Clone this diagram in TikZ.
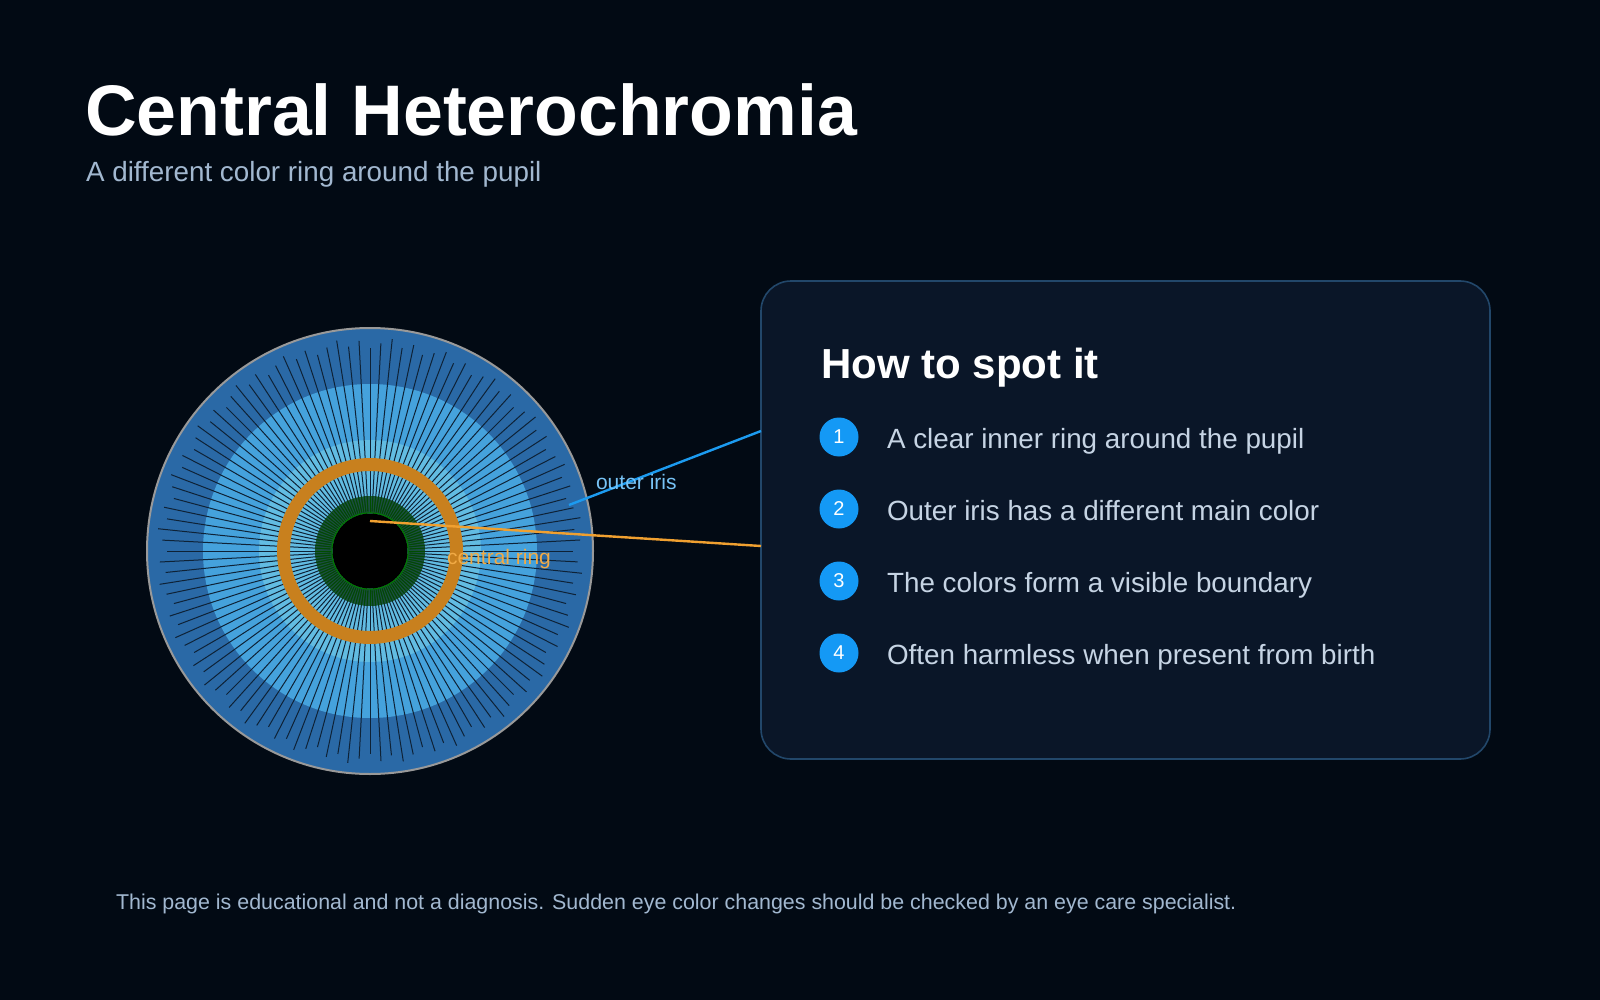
\documentclass[tikz,border=0pt]{standalone}
\usepackage{fontspec}
\setmainfont{Liberation Sans}
\usetikzlibrary{positioning,calc}
\definecolor{bgdark}{HTML}{020A14}
\definecolor{panelbg}{HTML}{0A1628}
\definecolor{panelline}{HTML}{22476A}
\definecolor{irisout}{HTML}{2A69A6}
\definecolor{irismid}{HTML}{45A2DC}
\definecolor{irisin}{HTML}{62BCE2}
\definecolor{ringorange}{HTML}{C8801E}
\definecolor{linkorange}{HTML}{F0A030}
\definecolor{ringgreen}{HTML}{0F3D22}
\definecolor{badgeblue}{HTML}{1499F5}
\definecolor{linkblue}{HTML}{1C9BF0}
\definecolor{itemtext}{HTML}{C6D4E4}
\definecolor{subtext}{HTML}{A2B8D0}
\definecolor{spoke}{HTML}{0E2236}
\begin{document}
\begin{tikzpicture}[x=0.5pt,y=-0.5pt]
\tikzstyle{badge}=[circle,fill=badgeblue,minimum size=19.5pt,inner sep=0pt,text=white,font=\fontsize{10}{12}\selectfont]
\tikzstyle{item}=[anchor=base west,text=itemtext,font=\fontsize{13.9}{16}\selectfont]
\tikzstyle{spokeline}=[spoke,line width=0.5pt]
\fill[bgdark] (0,0) rectangle (1600,1000);
\useasboundingbox (0,0) rectangle (1600,1000);
% title
\node[anchor=base west,text=white,font=\fontsize{35.8}{43}\selectfont\bfseries] (title) at (78,136) {Central Heterochromia};
\node[anchor=base west,text=subtext,font=\fontsize{13.9}{16}\selectfont] (subtitle) at (79,182) {A different color ring around the pupil};
% eye
\coordinate (eye) at (370,551);
\fill[irisout] (eye) circle (223);
\fill[irismid] (eye) circle (167);
\fill[irisin] (eye) circle (111);
\foreach \i in {0,...,119}{
  \pgfmathsetmacro\r{203+10*mod(\i*37,5)/4}
  \draw[spokeline] ($(eye)+(\i*3:40)$) -- ($(eye)+(\i*3:\r)$);
}
\fill[ringgreen,opacity=0.85,even odd rule] (eye) circle (55) (eye) circle (38);
\foreach \i in {0,...,119}{
  \draw[black!70!green,line width=0.4pt] ($(eye)+(\i*3:38)$) -- ($(eye)+(\i*3:55)$);
}
\draw[ringorange,line width=6.5pt] (eye) circle (86.5);
\draw[green!50!black,line width=0.6pt] (eye) circle (38);
\fill[black] (eye) circle (37.5);
\draw[gray!80,line width=1pt] (eye) circle (223);
% panel
\draw[panelline,fill=panelbg,line width=0.8pt,rounded corners=15pt] (761,281) rectangle (1490,759);
\node[anchor=base west,text=white,font=\fontsize{21}{25}\selectfont\bfseries] (heading) at (814,378) {How to spot it};
\node[badge] (b1) at (839,437) {1};
\node[item] at ($(b1)+(41,11)$) {A clear inner ring around the pupil};
\node[badge] (b2) at (839,509) {2};
\node[item] at ($(b2)+(41,11)$) {Outer iris has a different main color};
\node[badge] (b3) at (839,581) {3};
\node[item] at ($(b3)+(41,11)$) {The colors form a visible boundary};
\node[badge] (b4) at (839,653) {4};
\node[item] at ($(b4)+(41,11)$) {Often harmless when present from birth};
% pointers
\coordinate (outerpt) at (569,505);
\coordinate (outerend) at (761,431);
\coordinate (centerpt) at (370,521);
\coordinate (centerend) at (761,546);
\draw[linkblue,line width=1.2pt] (outerpt) -- (outerend);
\draw[linkorange,line width=1.2pt] (centerpt) -- (centerend);
\node[anchor=base west,text=linkblue!60!white,font=\fontsize{10.5}{12}\selectfont] (outerlbl) at (589,489) {outer iris};
\node[anchor=base west,text=linkorange!90!white,font=\fontsize{10.5}{12}\selectfont] (centerlbl) at (440,564) {central ring};
% footer
\node[anchor=base west,text=subtext,font=\fontsize{10.7}{12}\selectfont] (footer) at (109,909) {This page is educational and not a diagnosis. Sudden eye color changes should be checked by an eye care specialist.};
\end{tikzpicture}
\end{document}
